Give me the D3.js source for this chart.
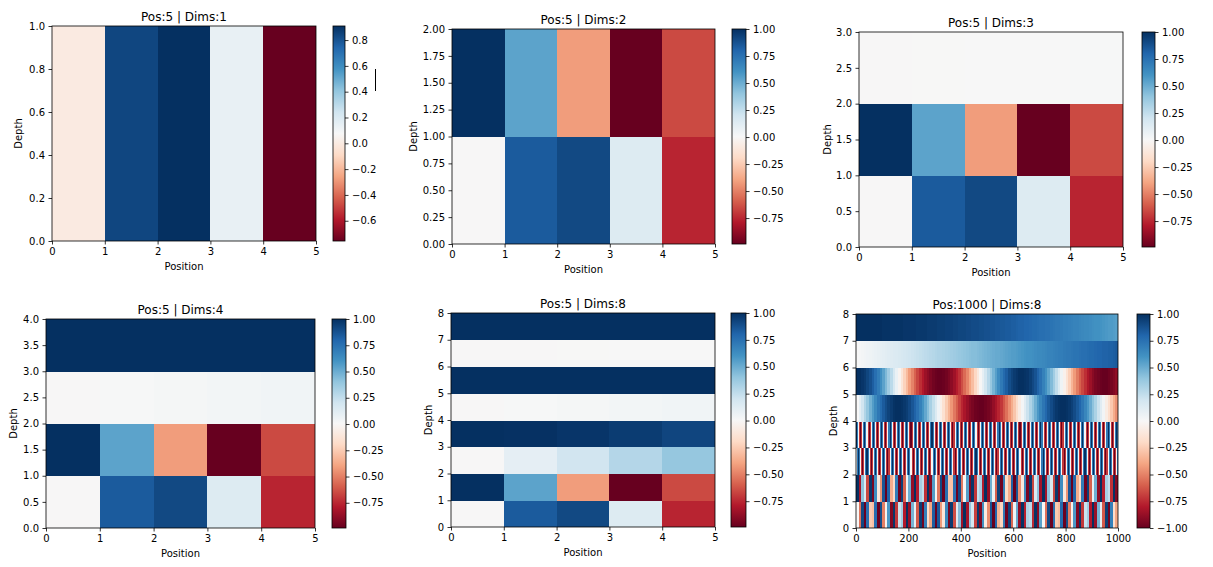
<!DOCTYPE html>
<html>
<head>
<meta charset="utf-8">
<script src="https://cdn.jsdelivr.net/npm/d3@7"></script>
<style>
	body { margin: 0; background: #fff; }
	text { font-family: "DejaVu Sans", sans-serif; fill: #000; }
</style>
</head>
<body>
<script>
// ---- values ----
// 5 positions, one array per depth row
var sinPos = [0, 0.841, 0.909, 0.141, -0.757]
var cosPos = [1, 0.540, -0.416, -0.990, -0.654]
var sinPosDims3 = [0, 0.002, 0.004, 0.006, 0.009]
var sinPos10 = [0, 0.100, 0.199, 0.296, 0.389]
var cosPos10 = [1, 0.995, 0.980, 0.955, 0.921]
var sinPos100 = [0, 0.010, 0.020, 0.030, 0.040]
var cosPos100 = [1, 1.000, 1.000, 1.000, 0.999]
var sinPos1000 = [0, 0.001, 0.002, 0.003, 0.004]
var cosPos1000 = [1, 1, 1, 1, 1]

// 1000 positions, sampled (step = 1000 / length)
var long0 = [0, -.54, .91, -.99, .75, -.26, -.30, .77, -.99, .89, -.51, -.04, .58, -.93, .98, -.72, .22, .35, -.80, 1.00, -.87, .47,
	.09, -.62, .95, -.97, .69, -.18, -.39, .83, -.99, .85, -.43, -.13, .65, -.96, .96, -.65, .13, .43, -.85, 1.00, -.83, .39,
	.18, -.69, .97, -.94, .61, -.09, -.47, .87, -1.00, .80, -.35, -.22, .71, -.98, .93, -.58, .05, .51, -.89, .99, -.78, .31,
	.26, -.75, .99, -.91, .54, .00, -.55, .91, -.99, .75, -.26, -.31, .78, -.99, .89, -.51, -.05, .58, -.93, .98, -.71, .22,
	.35, -.80, 1.00, -.87, .47, .09, -.62, .95, -.97, .68, -.18, -.39]
var long1 = [1, -.84, .41, .15, -.67, .97, -.95, .63, -.11, -.45, .86, -1.00, .81, -.37, -.20, .70, -.98, .94, -.60, .07, .49, -.88,
	1.00, -.79, .33, .24, -.73, .99, -.92, .56, -.02, -.53, .91, -.99, .76, -.28, -.29, .76, -.99, .91, -.53, -.02, .56, -.93,
	.98, -.72, .24, .33, -.79, 1.00, -.88, .49, .07, -.60, .94, -.98, .70, -.20, -.37, .81, -1.00, .86, -.45, -.11, .63, -.95,
	.97, -.67, .15, .41, -.84, 1.00, -.84, .41, .16, -.67, .97, -.95, .63, -.11, -.45, .86, -1.00, .81, -.37, -.20, .70, -.98,
	.94, -.60, .07, .49, -.89, 1.00, -.79, .33, .24, -.73, .99, -.92]
var long2 = [
	0, .71, 1, .71, 0, -.71, -1, -.71, 0, .71, 1, .71, 0, -.71, -1, -.71,
	0, .71, 1, .71, 0, -.71, -1, -.71, 0, .71, 1, .71, 0, -.71, -1, -.71,
	0, .71, 1, .71, 0, -.71, -1, -.71, 0, .71, 1, .71, 0, -.71, -1, -.71,
	0, .71, 1, .71, 0, -.71, -1, -.71, 0, .71, 1, .71, 0, -.71, -1, -.71,
	0, .71, 1, .71, 0, -.71, -1, -.71, 0, .71, 1, .71, 0, -.71, -1, -.71,
	0, .71, 1, .71, 0, -.71, -1, -.71, 0, .71, 1, .71, 0, -.71, -1, -.71,
	0, .71, 1, .71, 0, -.71, -1, -.71, 0, .71, 1, .71, 0, -.71, -1, -.71,
	0, .71, 1, .71, 0, -.71, -1, -.71, 0, .71, 1, .71, 0, -.71, -1, -.71,
	0, .71, 1, .71, 0, -.71, -1, -.71, 0, .71, 1, .71, 0, -.71, -1, -.71,
	0, .71, 1, .71, 0, -.71, -1, -.71, 0, .71, 1, .71, 0, -.71, -1, -.71,
	0, .71, 1, .71, 0, -.71, -1, -.71, 0, .71, 1, .71, 0, -.71, -1, -.71,
	0, .71, 1, .71, 0, -.71, -1, -.71, 0, .71, 1, .71, 0, -.71, -1, -.71,
	0, .71, 1, .71, 0, -.71, -1, -.71, 0, .71, 1, .71, 0, -.71, -1, -.71,
	0, .71, 1, .71, 0, -.71, -1, -.71, 0, .71, 1, .71, 0, -.71, -1, -.71,
	0, .71, 1, .71, 0, -.71, -1, -.71, 0, .71, 1, .71, 0, -.71, -1, -.71,
	0, .71, 1, .71, 0, -.71, -1, -.71, 0, .71]
var long3 = [
	1, .71, 0, -.71, -1, -.71, 0, .71, 1, .71, 0, -.71, -1, -.71, 0, .71,
	1, .71, 0, -.71, -1, -.71, 0, .71, 1, .71, 0, -.71, -1, -.71, 0, .71,
	1, .71, 0, -.71, -1, -.71, 0, .71, 1, .71, 0, -.71, -1, -.71, 0, .71,
	1, .71, 0, -.71, -1, -.71, 0, .71, 1, .71, 0, -.71, -1, -.71, 0, .71,
	1, .71, 0, -.71, -1, -.71, 0, .71, 1, .71, 0, -.71, -1, -.71, 0, .71,
	1, .71, 0, -.71, -1, -.71, 0, .71, 1, .71, 0, -.71, -1, -.71, 0, .71,
	1, .71, 0, -.71, -1, -.71, 0, .71, 1, .71, 0, -.71, -1, -.71, 0, .71,
	1, .71, 0, -.71, -1, -.71, 0, .71, 1, .71, 0, -.71, -1, -.71, 0, .71,
	1, .71, 0, -.71, -1, -.71, 0, .71, 1, .71, 0, -.71, -1, -.71, 0, .71,
	1, .71, 0, -.71, -1, -.71, 0, .71, 1, .71, 0, -.71, -1, -.71, 0, .71,
	1, .71, 0, -.71, -1, -.71, 0, .71, 1, .71, 0, -.71, -1, -.71, 0, .71,
	1, .71, 0, -.71, -1, -.71, 0, .71, 1, .71, 0, -.71, -1, -.71, 0, .71,
	1, .71, 0, -.71, -1, -.71, 0, .71, 1, .71, 0, -.71, -1, -.71, 0, .71,
	1, .71, 0, -.71, -1, -.71, 0, .71, 1, .71, 0, -.71, -1, -.71, 0, .71,
	1, .71, 0, -.71, -1, -.71, 0, .71, 1, .71, 0, -.71, -1, -.71, 0, .71,
	1, .71, 0, -.71, -1, -.71, 0, .71, 1, .71]
var long4 = [0, .10, .20, .30, .39, .48, .56, .64, .72, .78,
	.84, .89, .93, .96, .99, 1.00, 1.00, .99, .97, .95,
	.91, .86, .81, .75, .68, .60, .52, .43, .33, .24,
	.14, .04, -.06, -.16, -.26, -.35, -.44, -.53, -.61, -.69,
	-.76, -.82, -.87, -.92, -.95, -.98, -.99, -1.00, -1.00, -.98,
	-.96, -.93, -.88, -.83, -.77, -.71, -.63, -.55, -.46, -.37,
	-.28, -.18, -.08, .02, .12, .22, .31, .40, .49, .58,
	.66, .73, .79, .85, .90, .94, .97, .99, 1.00, 1.00,
	.99, .97, .94, .90, .85, .80, .73, .66, .58, .50,
	.41, .32, .22, .12, .03, -.08, -.17, -.27, -.37, -.46]
var long5 = [1.00, 1.00, .98, .96, .92, .88, .83, .76, .70, .62,
	.54, .45, .36, .27, .17, .07, -.03, -.13, -.23, -.32,
	-.42, -.50, -.59, -.67, -.74, -.80, -.86, -.90, -.94, -.97,
	-.99, -1.00, -1.00, -.99, -.97, -.94, -.90, -.85, -.79, -.73,
	-.65, -.57, -.49, -.40, -.31, -.21, -.11, -.01, .09, .19,
	.28, .38, .47, .55, .63, .71, .78, .83, .89, .93,
	.96, .98, 1.00, 1.00, .99, .98, .95, .91, .87, .81,
	.75, .68, .61, .53, .44, .35, .25, .15, .05, -.05,
	-.15, -.24, -.34, -.43, -.52, -.60, -.67, -.74, -.81, -.86,
	-.91, -.95, -.97, -.99, -1.00, -1.00, -.98, -.96, -.93, -.89]
var long6 = [.00, .01, .02, .03, .04, .05, .06, .07, .08, .09,
	.10, .11, .12, .13, .14, .15, .16, .17, .18, .19,
	.20, .21, .22, .23, .24, .25, .26, .27, .28, .29,
	.30, .31, .31, .32, .33, .34, .35, .36, .37, .38,
	.39, .40, .41, .42, .43, .43, .44, .45, .46, .47,
	.48, .49, .50, .51, .51, .52, .53, .54, .55, .56,
	.56, .57, .58, .59, .60, .61, .61, .62, .63, .64,
	.64, .65, .66, .67, .67, .68, .69, .70, .70, .71,
	.72, .72, .73, .74, .74, .75, .76, .76, .77, .78,
	.78, .79, .80, .80, .81, .81, .82, .82, .83, .84]
var long7 = [1.00, 1.00, 1.00, 1.00, 1.00, 1.00, 1.00, 1.00, 1.00, 1.00,
	.99, .99, .99, .99, .99, .99, .99, .99, .98, .98,
	.98, .98, .98, .97, .97, .97, .97, .96, .96, .96,
	.96, .95, .95, .95, .94, .94, .94, .93, .93, .92,
	.92, .92, .91, .91, .90, .90, .90, .89, .89, .88,
	.88, .87, .87, .86, .86, .85, .85, .84, .84, .83,
	.83, .82, .81, .81, .80, .80, .79, .78, .78, .77,
	.76, .76, .75, .75, .74, .73, .72, .72, .71, .70,
	.70, .69, .68, .67, .67, .66, .65, .64, .64, .63,
	.62, .61, .61, .60, .59, .58, .57, .57, .56, .55]

// tick labels
var posTicks5 = [0, 1, 2, 3, 4, 5]
var posTicks1000 = [0, 200, 400, 600, 800, 1000]
var depthTicks1 = [0, 0.2, 0.4, 0.6, 0.8, 1.0]
var depthTicks2 = [0, 0.25, 0.5, 0.75, 1, 1.25, 1.5, 1.75, 2]
var depthTicks3 = [0, 0.5, 1, 1.5, 2, 2.5, 3]
var depthTicks4 = [0, 0.5, 1, 1.5, 2, 2.5, 3, 3.5, 4]
var depthTicks8 = [0, 1, 2, 3, 4, 5, 6, 7, 8]
var cbTicksDims1 = [-0.6, -0.4, -0.2, 0, 0.2, 0.4, 0.6, 0.8]
var cbTicksQuarter = [-0.75, -0.5, -0.25, 0, 0.25, 0.5, 0.75, 1]
var cbTicksFull = [-1, -0.75, -0.5, -0.25, 0, 0.25, 0.5, 0.75, 1]

// ---- layout ----
var panels = [
	{ title: "Pos:5 | Dims:1", nPos: 5, rows: [sinPos],
		xTicks: posTicks5, xFmt: "d", yTicks: depthTicks1, yFmt: ".1f", cbTicks: cbTicksDims1, cbFmt: ".1f",
		x0: 52, x1: 316, y0: 26, y1: 241, cx0: 333, cx1: 345, depthDx: 34 },
	{ title: "Pos:5 | Dims:2", nPos: 5, rows: [sinPos, cosPos],
		xTicks: posTicks5, xFmt: "d", yTicks: depthTicks2, yFmt: ".2f", cbTicks: cbTicksQuarter, cbFmt: ".2f",
		x0: 452, x1: 715, y0: 29, y1: 244, cx0: 732, cx1: 746, depthDx: 39 },
	{ title: "Pos:5 | Dims:3", nPos: 5, rows: [sinPos, cosPos, sinPosDims3],
		xTicks: posTicks5, xFmt: "d", yTicks: depthTicks3, yFmt: ".1f", cbTicks: cbTicksQuarter, cbFmt: ".2f",
		x0: 859, x1: 1123, y0: 32, y1: 247, cx0: 1142, cx1: 1155, depthDx: 32 },
	{ title: "Pos:5 | Dims:4", nPos: 5, rows: [sinPos, cosPos, sinPos100, cosPos100],
		xTicks: posTicks5, xFmt: "d", yTicks: depthTicks4, yFmt: ".1f", cbTicks: cbTicksQuarter, cbFmt: ".2f",
		x0: 46, x1: 315, y0: 319, y1: 528, cx0: 332, cx1: 346, depthDx: 33 },
	{ title: "Pos:5 | Dims:8", nPos: 5,
		rows: [sinPos, cosPos, sinPos10, cosPos10, sinPos100, cosPos100, sinPos1000, cosPos1000],
		xTicks: posTicks5, xFmt: "d", yTicks: depthTicks8, yFmt: "d", cbTicks: cbTicksQuarter, cbFmt: ".2f",
		x0: 451, x1: 715, y0: 313, y1: 527, cx0: 731, cx1: 746, depthDx: 23 },
	{ title: "Pos:1000 | Dims:8", nPos: 1000,
		rows: [long0, long1, long2, long3, long4, long5, long6, long7],
		xTicks: posTicks1000, xFmt: "d", yTicks: depthTicks8, yFmt: "d", cbTicks: cbTicksFull, cbFmt: ".2f",
		x0: 856, x1: 1118, y0: 314, y1: 528, cx0: 1137, cx1: 1150, depthDx: 23 }
]

function main() {
	var svg = d3.select("body")
		.append("svg")
		.attr("width", 1213)
		.attr("height", 567)

	panels.forEach((p, i) => plotPanel(svg, p, i))

	// stray mark next to the first colorbar
	svg.append("line")
		.attr("x1", 375.5).attr("x2", 375.5)
		.attr("y1", 69).attr("y2", 91)
		.attr("stroke", "#000")
		.attr("stroke-width", 1)
}

function styleAxis(g) {
	g.select(".domain").remove()
	g.selectAll("line").attr("stroke", "#000").attr("stroke-width", 0.8)
	g.selectAll("text")
		.style("font-family", "DejaVu Sans")
		.style("font-size", "10px")
		.attr("fill", "#000")
}

function plotPanel(svg, p, idx) {
	var vmin = d3.min(p.rows, (r) => d3.min(r))
	var vmax = d3.max(p.rows, (r) => d3.max(r))

	var xScale = d3.scaleLinear().domain([0, p.nPos]).range([p.x0, p.x1])
	var yScale = d3.scaleLinear().domain([0, p.rows.length]).range([p.y1, p.y0])

	var colors = d3.schemeRdBu[11]
	var colorScale = d3.scaleLinear()
		.domain(colors.map((c, i) => vmin + i * (vmax - vmin) / (colors.length - 1)))
		.range(colors)
		.clamp(true)

	var g = svg.append("g")

	g.append("clipPath")
		.attr("id", "clip" + idx)
		.append("rect")
		.attr("x", p.x0).attr("y", p.y0)
		.attr("width", p.x1 - p.x0).attr("height", p.y1 - p.y0)

	var cells = g.append("g")
		.attr("clip-path", "url(#clip" + idx + ")")
		.attr("shape-rendering", "crispEdges")

	// one band of cells per depth row
	p.rows.forEach((row, r) => {
		var step = p.nPos / row.length
		cells.append("g")
			.selectAll("rect")
			.data(row)
			.enter()
			.append("rect")
			.attr("x", (d, i) => xScale(i * step))
			.attr("y", yScale(r + 1))
			.attr("width", xScale(step) - xScale(0) + 0.5)
			.attr("height", yScale(r) - yScale(r + 1) + 0.5)
			.attr("fill", (d) => colorScale(d))
	})

	// frame
	g.append("rect")
		.attr("x", p.x0).attr("y", p.y0)
		.attr("width", p.x1 - p.x0).attr("height", p.y1 - p.y0)
		.attr("fill", "none")
		.attr("stroke", "#000")
		.attr("stroke-width", 0.8)

	var xAxis = d3.axisBottom(xScale)
		.tickValues(p.xTicks)
		.tickFormat(d3.format(p.xFmt))
		.tickSizeOuter(0).tickSizeInner(3.5).tickPadding(3.5)

	var yAxis = d3.axisLeft(yScale)
		.tickValues(p.yTicks)
		.tickFormat(d3.format(p.yFmt))
		.tickSizeOuter(0).tickSizeInner(3.5).tickPadding(3.5)

	g.append("g")
		.attr("transform", "translate(0," + p.y1 + ")")
		.call(xAxis)
		.call(styleAxis)

	g.append("g")
		.attr("transform", "translate(" + p.x0 + ",0)")
		.call(yAxis)
		.call(styleAxis)

	g.append("text")
		.attr("x", (p.x0 + p.x1) / 2)
		.attr("y", p.y0 - 5)
		.style("text-anchor", "middle")
		.style("font-size", "12px")
		.text(p.title)

	g.append("text")
		.attr("x", (p.x0 + p.x1) / 2)
		.attr("y", p.y1 + 29)
		.style("text-anchor", "middle")
		.style("font-size", "10px")
		.text("Position")

	g.append("text")
		.attr("transform", "translate(" + (p.x0 - p.depthDx) + "," + ((p.y0 + p.y1) / 2) + ") rotate(-90)")
		.attr("dy", "0.35em")
		.style("text-anchor", "middle")
		.style("font-size", "10px")
		.text("Depth")

	// colorbar
	var gradId = "grad" + idx
	var grad = g.append("defs")
		.append("linearGradient")
		.attr("id", gradId)
		.attr("x1", 0).attr("y1", 1).attr("x2", 0).attr("y2", 0)
	grad.selectAll("stop")
		.data(colors)
		.enter()
		.append("stop")
		.attr("offset", (d, i) => i / (colors.length - 1))
		.attr("stop-color", (d) => d)

	g.append("rect")
		.attr("x", p.cx0).attr("y", p.y0)
		.attr("width", p.cx1 - p.cx0).attr("height", p.y1 - p.y0)
		.attr("fill", "url(#" + gradId + ")")
		.attr("stroke", "#000")
		.attr("stroke-width", 0.8)

	var cbScale = d3.scaleLinear().domain([vmin, vmax]).range([p.y1, p.y0])
	var cbAxis = d3.axisRight(cbScale)
		.tickValues(p.cbTicks)
		.tickFormat(d3.format(p.cbFmt))
		.tickSizeOuter(0).tickSizeInner(3.5).tickPadding(3.5)

	g.append("g")
		.attr("transform", "translate(" + p.cx1 + ",0)")
		.call(cbAxis)
		.call(styleAxis)
}

main()
</script>
</body>
</html>
